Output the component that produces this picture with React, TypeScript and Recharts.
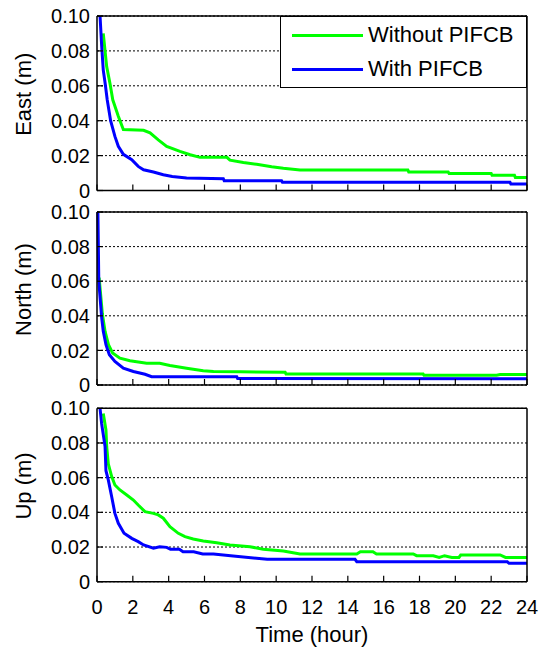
import { CartesianGrid, Legend, Line, LineChart, ReferenceLine, XAxis, YAxis } from 'recharts'

const hourTicks = [0, 2, 4, 6, 8, 10, 12, 14, 16, 18, 20, 22, 24]
const errTicks = [0, 0.02, 0.04, 0.06, 0.08, 0.1]
const seriesNames = ['Without PIFCB', 'With PIFCB']

// [hour, metres]
const eastWithout: [number, number][] = [
  [0.35, 0.09], [0.54, 0.071], [0.73, 0.061], [0.88, 0.052], [1.19, 0.0425],
  [1.47, 0.0349], [2.6, 0.0345], [2.96, 0.033], [3.42, 0.029], [3.89, 0.0253],
  [4.63, 0.0224], [5.2, 0.0205], [5.75, 0.019], [7.25, 0.019], [7.42, 0.0174],
  [8.17, 0.0161], [8.91, 0.015], [9.75, 0.0136], [10.4, 0.0127], [11.33, 0.0117],
  [17.35, 0.0117], [17.4, 0.0106], [19.6, 0.0106], [19.65, 0.0098], [22.0, 0.0098],
  [22.05, 0.0087], [23.3, 0.0087], [23.35, 0.0075], [24, 0.0075],
]
const eastWith: [number, number][] = [
  [0.17, 0.1], [0.26, 0.083], [0.35, 0.069], [0.46, 0.061], [0.57, 0.052],
  [0.76, 0.04], [1.0, 0.031], [1.19, 0.0253], [1.47, 0.0207], [1.94, 0.0176],
  [2.3, 0.0138], [2.6, 0.0119], [3.15, 0.0106], [3.7, 0.009], [4.2, 0.008],
  [5.0, 0.0071], [7.05, 0.0068], [7.1, 0.0056], [10.3, 0.0056], [10.35, 0.0047],
  [23.05, 0.0047], [23.1, 0.0037], [24, 0.0037],
]
const northWithout: [number, number][] = [
  [0.12, 0.062], [0.3, 0.041], [0.45, 0.031], [0.64, 0.0233], [0.87, 0.0185],
  [1.28, 0.0155], [1.84, 0.014], [2.77, 0.0126], [3.5, 0.0126], [4.07, 0.0113],
  [5.0, 0.0097], [5.93, 0.0083], [6.5, 0.0078], [8.0, 0.0076], [10.5, 0.0074],
  [10.55, 0.0064], [18.2, 0.0064], [18.25, 0.0056], [22.3, 0.0056], [22.5, 0.006],
  [24, 0.006],
]
const northWith: [number, number][] = [
  [0.05, 0.1], [0.1, 0.06], [0.26, 0.039], [0.35, 0.031], [0.5, 0.0233],
  [0.69, 0.0175], [1.0, 0.0136], [1.47, 0.0097], [2.03, 0.0078], [2.68, 0.0062],
  [3.05, 0.0048], [7.8, 0.0048], [7.85, 0.0037], [24, 0.0036],
]
const upWithout: [number, number][] = [
  [0.35, 0.097], [0.5, 0.0875], [0.54, 0.078], [0.63, 0.068], [0.82, 0.0606],
  [1.0, 0.0558], [1.28, 0.0529], [1.66, 0.05], [2.03, 0.0471], [2.3, 0.0442],
  [2.68, 0.0404], [3.15, 0.0394], [3.42, 0.0385], [3.7, 0.0366], [4.07, 0.0317],
  [4.54, 0.0279], [4.91, 0.026], [5.37, 0.0246], [5.93, 0.0235], [6.68, 0.0225],
  [7.42, 0.0212], [8.54, 0.0202], [9.28, 0.0187], [10.4, 0.0177], [11.33, 0.016],
  [14.5, 0.016], [14.7, 0.0173], [15.4, 0.0173], [15.6, 0.016], [17.65, 0.016],
  [17.84, 0.015], [18.77, 0.015], [19.1, 0.014], [19.4, 0.015], [19.8, 0.014],
  [20.2, 0.014], [20.3, 0.0154], [22.5, 0.0154], [22.8, 0.014], [24, 0.014],
]
const upWith: [number, number][] = [
  [0.17, 0.1], [0.26, 0.091], [0.45, 0.078], [0.5, 0.064], [0.63, 0.0587],
  [0.82, 0.049], [1.0, 0.0394], [1.19, 0.0337], [1.51, 0.028], [1.94, 0.025],
  [2.3, 0.0231], [2.6, 0.0212], [3.15, 0.0193], [3.5, 0.0202], [3.89, 0.0198],
  [4.1, 0.0187], [4.6, 0.0187], [4.8, 0.0173], [5.4, 0.0173], [5.9, 0.016],
  [6.5, 0.016], [7.6, 0.0148], [8.9, 0.0135], [9.5, 0.0129], [14.4, 0.0129],
  [14.5, 0.0115], [22.9, 0.0115], [23.0, 0.0106], [24, 0.0106],
]

const FONT = 'Arial, "Liberation Sans", Helvetica, sans-serif'
const toPoints = (pts: [number, number][]) => pts.map(([t, v]) => ({ t, v }))
const fmtErr = (v: number) => (v === 0 ? '0' : v.toFixed(2))

function YLabel(props: any) {
  const { viewBox, value } = props
  const x = viewBox.x + 6
  const y = viewBox.y + viewBox.height / 2 - 9
  return (
    <text
      x={x}
      y={y}
      transform={`rotate(-90 ${x} ${y})`}
      textAnchor="middle"
      dominantBaseline="central"
      fontSize={22}
      fill="#000"
    >
      {value}
    </text>
  )
}

// inward tick mark, optional label outside
function HTick(props: any) {
  const { x, y, payload, dir, showLabel } = props
  return (
    <g>
      <line x1={x} y1={y} x2={x} y2={y + dir * 6} stroke="#000" strokeWidth={1.2} />
      {showLabel && (
        <text x={x} y={y + 18} dy="0.71em" textAnchor="middle" fontSize={20} fill="#000">
          {payload.value}
        </text>
      )}
    </g>
  )
}

function VTick(props: any) {
  const { x, y, payload, dir, showLabel } = props
  return (
    <g>
      <line x1={x} y1={y} x2={x + dir * 6} y2={y} stroke="#000" strokeWidth={1.2} />
      {showLabel && (
        <text x={x - 7} y={y} dy="0.355em" textAnchor="end" fontSize={20} fill="#000">
          {fmtErr(payload.value)}
        </text>
      )}
    </g>
  )
}

function LegendBox({ payload }: any) {
  const items = [...(payload || [])].sort(
    (a: any, b: any) => seriesNames.indexOf(a.value) - seriesNames.indexOf(b.value)
  )
  return (
    <div
      style={{
        width: 247,
        height: 72,
        boxSizing: 'border-box',
        border: '1.5px solid #000',
        background: '#fff',
        paddingTop: 1,
      }}
    >
      {items.map((p: any) => (
        <div key={p.value} style={{ display: 'flex', alignItems: 'center', height: 34 }}>
          <div style={{ marginLeft: 11, width: 71, height: 3, background: p.color }} />
          <span style={{ marginLeft: 5, fontSize: 22, lineHeight: '22px', color: '#000' }}>
            {p.value}
          </span>
        </div>
      ))}
    </div>
  )
}

interface PanelProps {
  top: number
  height: number
  marginTop: number
  marginBottom: number
  axisHeight: number
  label: string
  without: [number, number][]
  withP: [number, number][]
  last?: boolean
  legend?: boolean
}

const frame = { stroke: '#000', strokeWidth: 1.5 }

function Panel(p: PanelProps) {
  return (
    <div style={{ position: 'absolute', left: 0, top: p.top }}>
      <LineChart
        width={539}
        height={p.height}
        margin={{ top: p.marginTop, right: 11, bottom: p.marginBottom, left: 17 }}
      >
        <CartesianGrid vertical={false} stroke="#000" strokeDasharray="2 2" strokeWidth={1} />
        <XAxis
          dataKey="t"
          type="number"
          domain={[0, 24]}
          ticks={hourTicks}
          interval={0}
          height={p.axisHeight}
          tick={<HTick dir={-1} showLabel={!!p.last} />}
          tickSize={0}
          tickMargin={0}
          axisLine={false}
          tickLine={false}
          label={
            p.last
              ? { value: 'Time (hour)', position: 'insideBottom', offset: 9.3, fontSize: 22, fill: '#000' }
              : undefined
          }
        />
        <XAxis
          xAxisId="top"
          orientation="top"
          type="number"
          domain={[0, 24]}
          ticks={hourTicks}
          interval={0}
          height={1}
          tick={<HTick dir={1} showLabel={false} />}
          tickSize={0}
          tickMargin={0}
          axisLine={false}
          tickLine={false}
        />
        <YAxis
          type="number"
          domain={[0, 0.1]}
          ticks={errTicks}
          interval={0}
          width={80}
          tick={<VTick dir={1} showLabel />}
          tickSize={0}
          tickMargin={0}
          axisLine={false}
          tickLine={false}
          label={{ value: p.label, content: YLabel }}
        />
        <YAxis
          yAxisId="right"
          orientation="right"
          type="number"
          domain={[0, 0.1]}
          ticks={errTicks}
          interval={0}
          width={1}
          tick={<VTick dir={-1} showLabel={false} />}
          tickSize={0}
          tickMargin={0}
          axisLine={false}
          tickLine={false}
        />
        <Line
          data={toPoints(p.without)}
          dataKey="v"
          name={seriesNames[0]}
          stroke="#00ff00"
          strokeWidth={3}
          dot={false}
          activeDot={false}
          isAnimationActive={false}
        />
        <Line
          data={toPoints(p.withP)}
          dataKey="v"
          name={seriesNames[1]}
          stroke="#0000ff"
          strokeWidth={3}
          dot={false}
          activeDot={false}
          isAnimationActive={false}
        />
        <ReferenceLine y={0} {...frame} />
        <ReferenceLine y={0.1} {...frame} />
        <ReferenceLine x={0} {...frame} />
        <ReferenceLine x={24} {...frame} />
        {p.legend && (
          <Legend
            layout="horizontal"
            verticalAlign="middle"
            align="center"
            content={<LegendBox />}
            wrapperStyle={{ left: 280, top: 16, width: 247, height: 72 }}
          />
        )}
      </LineChart>
    </div>
  )
}

export default function App() {
  return (
    <div
      style={{
        position: 'absolute',
        left: 0,
        top: 0,
        width: 539,
        height: 651,
        overflow: 'hidden',
        background: '#fff',
        fontFamily: FONT,
      }}
    >
      <Panel top={0} height={205} marginTop={15} marginBottom={13.5} axisHeight={1}
        label="East (m)" without={eastWithout} withP={eastWith} legend />
      <Panel top={196} height={205} marginTop={15} marginBottom={15} axisHeight={1}
        label="North (m)" without={northWithout} withP={northWith} />
      <Panel top={392} height={259} marginTop={15.3} marginBottom={0} axisHeight={69.3}
        label="Up (m)" without={upWithout} withP={upWith} last />
    </div>
  )
}
